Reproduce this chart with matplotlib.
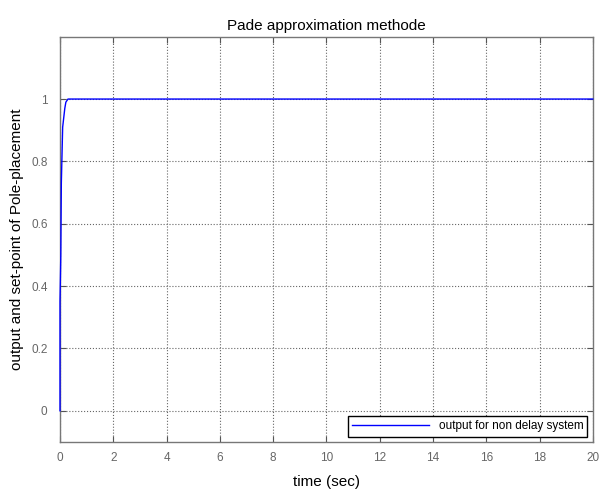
import numpy as np
import matplotlib.pyplot as plt

plt.rcParams['font.family'] = ['Liberation Sans', 'DejaVu Sans']

# step response
t = [0, 0, 0.03, 0.05, 0.1, 0.18, 0.22, 0.3, 20]
y = [0, 0.35, 0.5, 0.73, 0.91, 0.97, 0.99, 1.0, 1.0]
xticks = np.arange(0, 21, 2)
yticks = [0, 0.2, 0.4, 0.6, 0.8, 1]

fig = plt.figure(figsize=(6, 4.96), dpi=100)
ax = fig.add_axes([0.1, 0.109, 0.888, 0.817])
ax.plot(t, y, color='#0000ff', lw=1, label='output for non delay system',
        zorder=3, clip_on=False)
ax.set_xlim(0, 20)
ax.set_ylim(-0.1, 1.2)
ax.set_xticks(xticks)
ax.set_yticks(yticks)
ax.set_yticklabels(['0', '0.2', '0.4', '0.6', '0.8', '1'])
ax.grid(True, color='#666666', ls=':', lw=0.8)
ax.tick_params(direction='in', top=True, right=True, colors='#555555',
               labelcolor='#666666', labelsize=8.5, length=4)
ax.tick_params(axis='x', pad=7)
ax.tick_params(axis='y', pad=9)
for s in ax.spines.values():
    s.set_color('#777777')
    s.set_linewidth(1)
ax.set_title('Pade approximation methode', fontsize=11, pad=5)
ax.set_xlabel('time (sec)', fontsize=11, labelpad=8)
ax.set_ylabel('output and set-point of Pole-placement', fontsize=11, labelpad=5)
leg = ax.legend(loc='lower right', fontsize=8.5, fancybox=False, framealpha=1,
                borderaxespad=0.45, handlelength=6.5, borderpad=0.35)
leg.get_frame().set_edgecolor('black')
leg.get_frame().set_linewidth(1)
fig.savefig('out.png')
